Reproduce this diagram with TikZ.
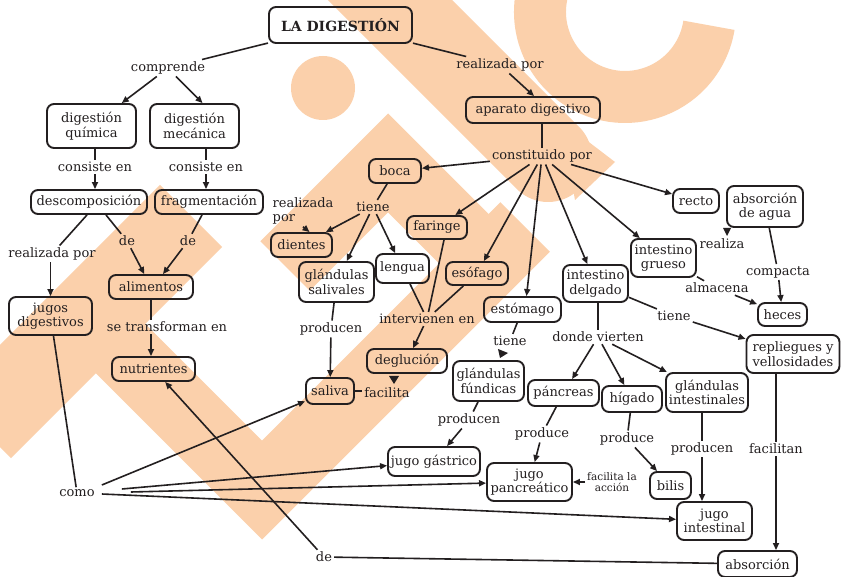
\documentclass[tikz,border=0pt]{standalone}
\usepackage{fontspec}
\setmainfont{DejaVu Serif}
\usetikzlibrary{arrows.meta,calc}
\definecolor{wm}{RGB}{251,208,171}
\definecolor{ink}{RGB}{35,31,32}
\newcommand\bodyfs{\fontsize{13}{14.5}\selectfont}
\newcommand\smallfs{\fontsize{10.5}{10.5}\selectfont}
\begin{document}
\begin{tikzpicture}[x=1pt,y=-1pt,
  box/.style={draw=ink,line width=1.9pt,rounded corners=7pt,inner sep=3pt,align=center,text=ink,font=\bodyfs},
  lab/.style={inner sep=2pt,align=center,text=ink,font=\bodyfs},
  con/.style={draw=ink,line width=1.6pt},
  arr/.style={con,-{Triangle[length=7pt,width=6pt]}},
  tri/.style={fill=ink}
]
\useasboundingbox (0,0) rectangle (841,577);
\fill[white] (0,0) rectangle (841,577);
% watermark shapes
\fill[wm] (323,88) circle[radius=32];
\draw[wm,line width=52pt] ($(625,12)+(200:85)$) arc[start angle=200,end angle=9,radius=85];
\draw[wm,line width=88pt,line cap=round] (360,-30) -- (548,158);
\fill[wm] (560,120) -- (615,162) -- (575,200) -- cycle;
\draw[wm,line width=70pt,line join=miter] (285,266) -- (388,163) -- (500,275);
\draw[wm,line width=88pt] (191,216) -- (-20,427);
\draw[wm,line width=70pt,line join=miter] (105,333) -- (262,490) -- (525,227);

% boxes
\node[box,minimum width=143pt,minimum height=36pt,font=\fontsize{14}{16}\selectfont\bfseries] (title) at (340.5,25) {LA DIGESTIÓN};
\node[box,minimum width=89pt,minimum height=44pt] (quim) at (91.5,126) {digestión\\química};
\node[box,minimum width=89pt,minimum height=44pt] (mec) at (194.5,126) {digestión\\mecánica};
\node[box,minimum width=116pt,minimum height=24pt] (desc) at (89,202) {descomposición};
\node[box,minimum width=108pt,minimum height=24pt] (frag) at (209,202) {fragmentación};
\node[box,minimum width=83pt,minimum height=38pt] (jugos) at (50.5,316) {jugos\\digestivos};
\node[box,minimum width=84pt,minimum height=24pt] (alim) at (151,287) {alimentos};
\node[box,minimum width=83pt,minimum height=24pt] (nutr) at (153.5,369) {nutrientes};
\node[box,minimum width=134pt,minimum height=26pt] (apar) at (533,110) {aparato digestivo};
\node[box,minimum width=52pt,minimum height=24pt] (boca) at (395,171) {boca};
\node[box,minimum width=61pt,minimum height=24pt] (dien) at (301.5,245) {dientes};
\node[box,minimum width=75pt,minimum height=40pt] (glsal) at (336.5,282) {glándulas\\salivales};
\node[box,minimum width=53pt,minimum height=29pt] (leng) at (402.5,268.5) {lengua};
\node[box,minimum width=60pt,minimum height=23pt] (far) at (437,227.5) {faringe};
\node[box,minimum width=62pt,minimum height=23pt] (eso) at (477,273.5) {esófago};
\node[box,minimum width=77pt,minimum height=25pt] (esto) at (522.5,309.5) {estómago};
\node[box,minimum width=46pt,minimum height=24pt] (recto) at (696,201) {recto};
\node[box,minimum width=76pt,minimum height=41pt] (absag) at (765,206.5) {absorción\\de agua};
\node[box,minimum width=65pt,minimum height=38pt] (igru) at (663.5,258) {intestino\\grueso};
\node[box,minimum width=65pt,minimum height=37pt] (idel) at (595.5,283.5) {intestino\\delgado};
\node[box,minimum width=49pt,minimum height=23pt] (heces) at (782.5,314.5) {heces};
\node[box,minimum width=93pt,minimum height=38pt,inner xsep=2pt] (repl) at (793,354) {repliegues y\\vellosidades};
\node[box,minimum width=80pt,minimum height=24pt] (degl) at (407,361) {deglución};
\node[box,minimum width=48pt,minimum height=26pt] (saliva) at (330,391) {saliva};
\node[box,minimum width=71pt,minimum height=40pt] (glfun) at (488.5,381) {glándulas\\fúndicas};
\node[box,minimum width=71pt,minimum height=26pt] (panc) at (563.5,393) {páncreas};
\node[box,minimum width=60pt,minimum height=26pt] (hig) at (632,399) {hígado};
\node[box,minimum width=82pt,minimum height=39pt,inner xsep=2pt] (glint) at (707,392.5) {glándulas\\intestinales};
\node[box,minimum width=92pt,minimum height=29pt,inner xsep=2pt] (jgas) at (434,461.5) {jugo gástrico};
\node[box,minimum width=85pt,minimum height=38pt,inner xsep=2pt] (jpan) at (529.5,482) {jugo\\pancreático};
\node[box,minimum width=41pt,minimum height=27pt] (bilis) at (670.5,485.5) {bilis};
\node[box,minimum width=75pt,minimum height=38pt] (jint) at (714.5,521) {jugo\\intestinal};
\node[box,minimum width=79pt,minimum height=26pt] (absor) at (757.5,564) {absorción};

% labels
\node[lab] (compr) at (168,68) {comprende};
\node[lab] (realA) at (500,65) {realizada por};
\node[lab] (consL) at (95,167) {consiste en};
\node[lab] (consR) at (206,167) {consiste en};
\node[lab] (realL) at (52,254) {realizada por};
\node[lab] (deL) at (127,241) {de};
\node[lab] (deR) at (188,241) {de};
\node[lab] (setr) at (167,327) {se transforman en};
\node[lab,align=left] (realD) at (303,211) {realizada\\por};
\node[lab] (tieneB) at (373,207) {tiene};
\node[lab] (const) at (542,156) {constituido por};
\node[lab] (prodS) at (331,329) {producen};
\node[lab] (interv) at (427,319) {intervienen en};
\node[lab] (facil) at (387,393) {facilita};
\node[lab] (tieneE) at (510,341) {tiene};
\node[lab] (realiza) at (722,244) {realiza};
\node[lab] (compa) at (778,272) {compacta};
\node[lab] (almac) at (717,288) {almacena};
\node[lab] (tieneD) at (674,316) {tiene};
\node[lab] (donde) at (598,337) {donde vierten};
\node[lab] (prodF) at (469,420) {producen};
\node[lab] (prodP) at (542,434) {produce};
\node[lab] (prodH) at (627,439) {produce};
\node[lab,font=\smallfs] (facac) at (612,482) {facilita la\\acción};
\node[lab] (prodI) at (702,449) {producen};
\node[lab] (facilt) at (776,449) {facilitan};
\node[lab] (como) at (77,493) {como};
\node[lab] (deB) at (324,557) {de};

% connectors
\draw[con] (title) -- (compr);
\draw[arr] (compr) -- (quim);
\draw[arr] ($(compr.south)+(8,0)$) -- ($(mec.north)+(8,0)$);
\draw[con] (title) -- (realA);
\draw[arr] (realA) -- ($(apar.north)+(1,0)$);
\draw[con] (apar.south -| const) -- (const);
\draw[con] (quim.south -| consL) -- (consL);
\draw[arr] (consL) -- (consL |- desc.north);
\draw[con] (mec.south -| consR) -- (consR);
\draw[arr] (consR) -- (consR |- frag.north);
\draw[con] ($(desc.south)+(-2,0)$) -- (realL);
\draw[arr] (realL.south -| jugos) -- (jugos);
\draw[con] ($(desc.south)+(17,0)$) -- (deL);
\draw[arr] (deL) -- (alim);
\draw[con] (frag) -- (deR);
\draw[arr] (deR) -- ($(alim.north)+(12,0)$);
\draw[con] (alim.south) -- (setr.north -| alim);
\draw[arr] (setr.south -| alim) -- (nutr.north -| alim);
% boca branch
\draw[arr] (const) -- (boca);
\draw[con] (boca) -- (tieneB);
\draw[arr] (tieneB) -- (dien);
\draw[arr] (tieneB) -- (glsal);
\draw[arr] (tieneB) -- (leng);
\draw[arr] (realD.south) -- ($(dien.north)+(8,0)$);
\draw[con] (glsal) -- (prodS);
\draw[arr] (prodS) -- (saliva);
\draw[con] (leng) -- (interv);
\draw[con] ($(far.south)+(7,0)$) -- (interv);
\draw[con] (eso) -- (interv);
\draw[arr] (interv) -- (degl);
\draw[con] (saliva.east) -- (facil.west |- saliva.east);
\fill[tri] (389,376) -- (399,376) -- (394,384) -- cycle;
% constituido fan
\draw[arr] (const) -- (far);
\draw[arr] (const) -- (eso);
\draw[arr] (const) -- ($(esto.north)+(4,0)$);
\draw[arr] (const) -- (idel);
\draw[arr] (const) -- (igru);
\draw[arr] (const) -- (recto);
% estomago
\draw[con] (esto) -- (tieneE);
\fill[tri] (498,349) -- (508,353) -- (500,358) -- cycle;
\draw[con] (glfun) -- (prodF);
\draw[arr] (prodF) -- (jgas);
% intestino grueso
\fill[tri] (723,228) -- (731,228) -- (727,236) -- cycle;
\draw[con] (absag) -- (compa);
\draw[arr] (compa) -- (heces);
\draw[con] (igru) -- (almac);
\draw[arr] (almac) -- (heces);
% intestino delgado
\draw[con] (idel) -- (tieneD);
\draw[arr] (tieneD) -- (repl);
\draw[con] (idel.south -| donde) -- (donde);
\draw[arr] (donde) -- (panc);
\draw[arr] (donde) -- (hig);
\draw[arr] (donde) -- (glint);
\draw[con] (panc) -- (prodP);
\draw[arr] (prodP) -- (jpan);
\draw[con] (hig) -- (prodH);
\draw[arr] (prodH) -- (bilis);
\draw[arr] (facac.west) -- (jpan.east |- facac.west);
\draw[con] (glint.south -| prodI) -- (prodI);
\draw[arr] (prodI) -- (jint.north -| prodI);
\draw[con] (repl.south -| facilt) -- (facilt);
\draw[arr] (facilt) -- (absor.north -| facilt);
% como
\draw[con] (jugos) -- (como);
\coordinate (c1) at ($(como.east)+(5,-8)$);
\coordinate (c2) at ($(como.east)+(25,-4)$);
\coordinate (c3) at ($(como.east)+(34,-1)$);
\coordinate (c4) at ($(como.east)+(5,1)$);
\draw[arr] (c1) -- (saliva);
\draw[arr] (c2) -- (jgas);
\draw[arr] (c3) -- (jpan);
\draw[arr] (c4) -- (jint);
\draw[arr] (deB) -- (nutr);
\draw[con] (deB) -- (absor);
\end{tikzpicture}
\end{document}
